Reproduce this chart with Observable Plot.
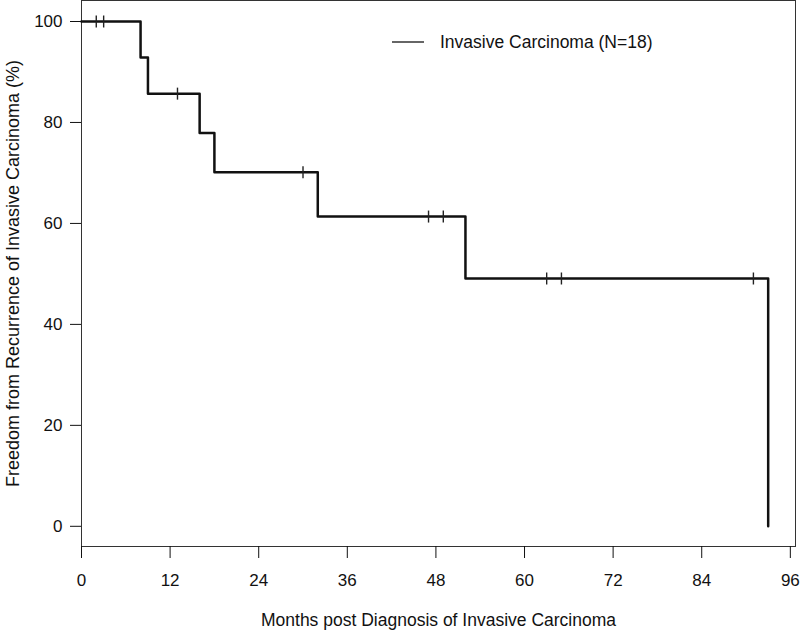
<!DOCTYPE html>
<html>
<head>
<meta charset="utf-8">
<script src="https://cdn.jsdelivr.net/npm/d3@7"></script>
<script src="https://cdn.jsdelivr.net/npm/@observablehq/plot@0.6"></script>
<style>
  html, body { margin: 0; padding: 0; background: white; }
  #chart { width: 800px; height: 632px; }
</style>
</head>
<body>
<div id="chart"></div>
<script>
// Kaplan–Meier step points (event times in months, survival %)
const eventTimes = [0, 8, 9, 16, 18, 32, 52, 93];
const survival = [100, 92.86, 85.71, 77.92, 70.13, 61.36, 49.09, 0];
// Censored observations (months)
const censorTimes = [2, 3, 13, 30, 47, 49, 63, 65, 91];
const xTicks = [0, 12, 24, 36, 48, 60, 72, 84, 96];
const yTicks = [0, 20, 40, 60, 80, 100];
const legendLabel = "Invasive Carcinoma (N=18)";
const xLabel = "Months post Diagnosis of Invasive Carcinoma";
const yLabel = "Freedom from Recurrence of Invasive Carcinoma (%)";

const steps = eventTimes.map((t, i) => ({t, s: survival[i]}));
const survAt = t => {
  let s = survival[0];
  for (let i = 0; i < eventTimes.length; i++) if (eventTimes[i] <= t) s = survival[i];
  return s;
};
const censors = censorTimes.map(t => ({t, s: survAt(t)}));

const censorSymbol = {
  draw(context) {
    context.moveTo(0, -6);
    context.lineTo(0, 6);
  }
};

const chart = Plot.plot({
  width: 800,
  height: 632,
  marginLeft: 81,
  marginRight: 5,
  marginTop: 0,
  marginBottom: 86,
  style: {fontFamily: "'Liberation Sans', Arial, sans-serif", fontSize: "17px", background: "white", color: "#111"},
  x: {domain: [0, 96.7]},
  y: {domain: [-4, 104.16]},
  marks: [
    Plot.frame({stroke: "#333", strokeWidth: 1}),
    Plot.axisX({ticks: xTicks, tickSize: 12, tickPadding: 15, fontSize: 17,
      label: null}),
    Plot.axisX({ticks: [], tickSize: 0, fontSize: 17.5,
      label: xLabel, labelAnchor: "center", labelOffset: 79, labelArrow: "none"}),
    Plot.axisY({ticks: yTicks, tickSize: 11, tickPadding: 8, fontSize: 17,
      label: null}),
    Plot.axisY({ticks: [], tickSize: 0, fontSize: 18,
      label: yLabel, labelAnchor: "center", labelOffset: 75, labelArrow: "none"}),
    Plot.line(steps, {x: "t", y: "s", curve: "step-after", stroke: "#111", strokeWidth: 2.5}),
    Plot.dot(censors, {x: "t", y: "s", symbol: censorSymbol, stroke: "#222", strokeWidth: 1.4, fill: "none", r: 6})
  ]
});

const svg = d3.select(chart);
svg.append("line")
  .attr("x1", 392).attr("x2", 424).attr("y1", 42).attr("y2", 42)
  .attr("stroke", "#333").attr("stroke-width", 1.5);
svg.append("text")
  .attr("x", 440).attr("y", 42).attr("dy", "0.35em")
  .attr("text-anchor", "start")
  .attr("font-size", 17.5).attr("fill", "#111")
  .text(legendLabel);

document.getElementById("chart").appendChild(chart);
</script>
</body>
</html>
